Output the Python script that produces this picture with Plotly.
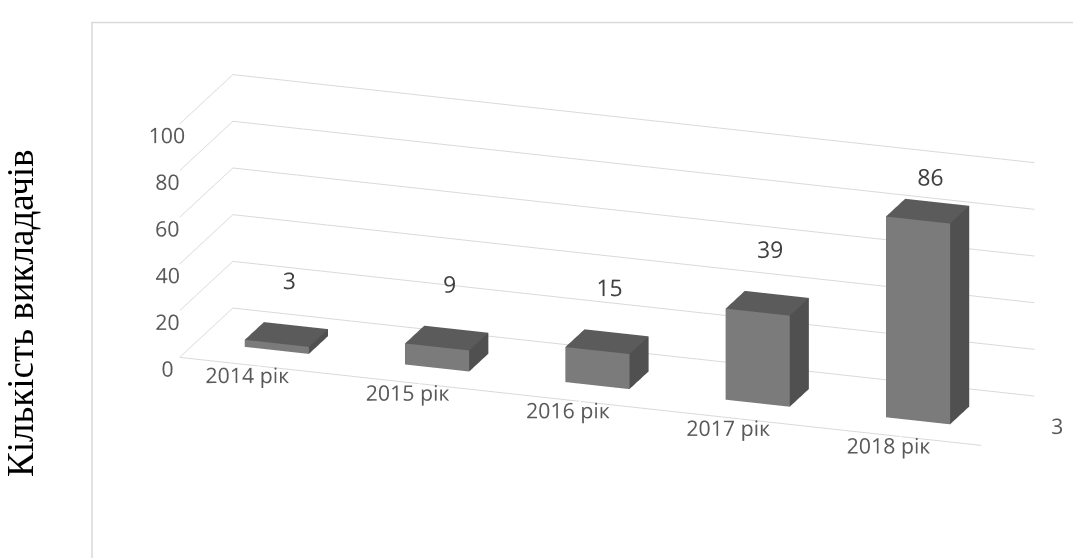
import plotly.graph_objects as go
import numpy as np

# ---- data ----
categories = ["2014 рік", "2015 рік", "2016 рік", "2017 рік", "2018 рік"]
values = [3, 9, 15, 39, 86]
series_name = "3"
z_ticks = [0, 20, 40, 60, 80, 100]
y_title = "Кількість викладачів"

# ---- styling ----
BAR_W = 0.4      # fraction of category slot
BAR_D0, BAR_D1 = 0.32, 0.68  # depth extent
C_FRONT, C_TOP, C_SIDE, C_HID = "#7b7b7b", "#5b5b5b", "#505050", "#666666"
GRID = "#d9d9d9"
TICK = "#595959"
EYE = 1.65
SCALE = 1.43

fig = go.Figure()

xs, ys, zs, I, J, K, fc = [], [], [], [], [], [], []
for i, v in enumerate(values):
    x0, x1 = i - BAR_W / 2, i + BAR_W / 2
    y0, y1 = BAR_D0, BAR_D1
    z0, z1 = 0, v
    base = len(xs)
    verts = [(x0, y0, z0), (x1, y0, z0), (x1, y1, z0), (x0, y1, z0),
             (x0, y0, z1), (x1, y0, z1), (x1, y1, z1), (x0, y1, z1)]
    for (a, b, c) in verts:
        xs.append(a); ys.append(b); zs.append(c)
    faces = [
        ((0, 1, 5), C_FRONT), ((0, 5, 4), C_FRONT),   # front y0
        ((1, 2, 6), C_SIDE), ((1, 6, 5), C_SIDE),     # right x1
        ((4, 5, 6), C_TOP), ((4, 6, 7), C_TOP),       # top
        ((3, 2, 6), C_HID), ((3, 6, 7), C_HID),       # back
        ((0, 3, 7), C_HID), ((0, 7, 4), C_HID),       # left
        ((0, 1, 2), C_HID), ((0, 2, 3), C_HID),       # bottom
    ]
    for (a, b, c), col in faces:
        I.append(base + a); J.append(base + b); K.append(base + c); fc.append(col)

fig.add_trace(go.Mesh3d(
    x=xs, y=ys, z=zs, i=I, j=J, k=K, facecolor=fc, flatshading=True,
    lighting=dict(ambient=1.0, diffuse=0.0, specular=0.0, roughness=1.0, fresnel=0.0),
    hoverinfo="skip", showscale=False,
))

# data labels (kept inside the plot box, as the original chart does)
label_z = [min(v + 22, 99.5) for v in values]
fig.add_trace(go.Scatter3d(
    x=list(range(len(values))), y=[0.55] * len(values), z=label_z,
    mode="text", text=[str(v) for v in values], textposition="middle center",
    textfont=dict(family="Open Sans", size=23, color="#404040"),
    hoverinfo="skip", showlegend=False,
))

axis_common = dict(showbackground=False, showspikes=False, zeroline=False,
                   title=dict(text=""), ticks="outside", tickangle=0,
                   tickcolor="rgba(255,255,255,0)", tickwidth=1,
                   tickfont=dict(family="Open Sans", size=16, color=TICK))

fig.update_layout(
    width=1081, height=558,
    margin=dict(l=0, r=0, t=0, b=0),
    paper_bgcolor="white",
    showlegend=False,
    scene=dict(
        domain=dict(x=[0.108, 1.0], y=[0.105, 0.991]),
        xaxis=dict(axis_common, range=[-0.5, len(values) - 0.5],
                   tickvals=list(range(len(values))), ticktext=categories,
                   ticklen=34,
                   showgrid=False, showline=True, linecolor=GRID, linewidth=2),
        yaxis=dict(axis_common, range=[0, 1], tickvals=[0.5], ticktext=[series_name],
                   ticklen=20, showgrid=False, showline=False),
        zaxis=dict(axis_common, range=[0, 100], tickvals=z_ticks, ticklen=30,
                   showgrid=True, gridcolor=GRID, gridwidth=2, showline=False),
        aspectmode="manual",
        aspectratio=dict(x=2.4 * SCALE, y=0.463 * SCALE, z=0.734 * SCALE * 0.95),
        camera=dict(
            eye=dict(x=0.3086 * EYE, y=-0.8962 * EYE, z=0.319 * EYE),
            center=dict(x=0, y=0, z=0),
            up=dict(x=0, y=0, z=1),
            projection=dict(type="orthographic"),
        ),
    ),
    shapes=[dict(type="rect", xref="paper", yref="paper",
                 x0=84 / 1081, x1=1.02, y0=-0.02, y1=1 - 14.5 / 558,
                 line=dict(color=GRID, width=1.5), fillcolor="rgba(0,0,0,0)")],
    annotations=[dict(text=y_title, xref="paper", yref="paper",
                      x=12 / 1081, y=1 - 305 / 558, textangle=-90,
                      showarrow=False, xanchor="center", yanchor="middle",
                      font=dict(family="Liberation Serif", size=37, color="#000000"))],
)

fig.write_html("out.html")
